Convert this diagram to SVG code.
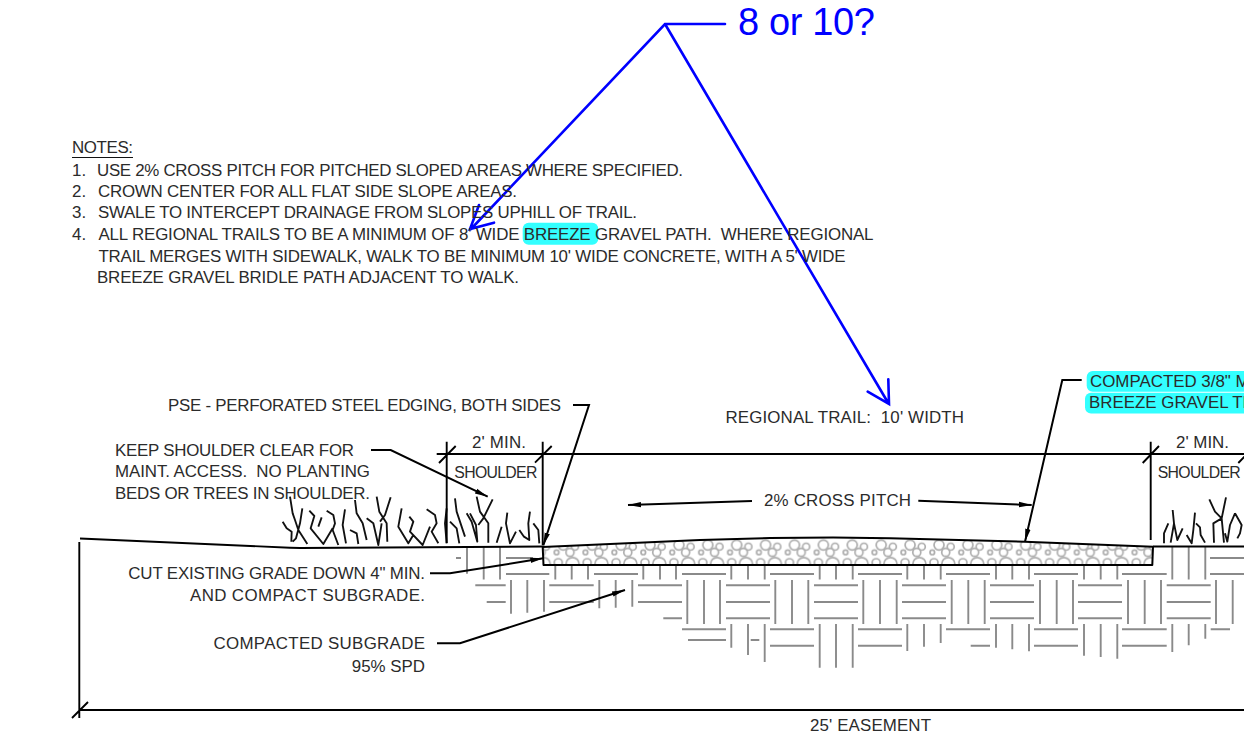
<svg xmlns="http://www.w3.org/2000/svg" width="1244" height="739" viewBox="0 0 1244 739">
<style>
text{font-family:"Liberation Sans",Arial,sans-serif;font-size:16.9px;fill:#2b2b2b;white-space:pre}
.s{font-size:15.8px}
.e{text-anchor:end}
.k{fill:none;stroke:#000;stroke-width:1.9;stroke-linejoin:round}
.l{fill:none;stroke:#000;stroke-width:2;marker-end:url(#ah)}
.g{fill:none;stroke:#111;stroke-width:5.6;stroke-linejoin:round}
.b{fill:none;stroke:#0000ff;stroke-width:2.6;stroke-linecap:round;stroke-linejoin:miter}
.h{fill:#33ffff}
.c{fill:none;stroke:#adadad;stroke-width:1.7}
</style>
<defs>
<marker id="ah" markerUnits="userSpaceOnUse" markerWidth="14" markerHeight="8" refX="13" refY="4" orient="auto"><path d="M0,1.3L13,4L0,6.7Z" fill="#000"/></marker>
<pattern id="gravel" patternUnits="userSpaceOnUse" x="726.7" y="537.7" width="28.9" height="40">
<circle class="c" cx="10" cy="7.3" r="5"/><circle class="c" cx="21.7" cy="9" r="3.5"/><circle class="c" cx="3.3" cy="14.7" r="2.3"/><circle class="c" cx="16.7" cy="14.7" r="4"/><circle class="c" cx="19.3" cy="26.3" r="6.5"/><circle class="c" cx="5" cy="25" r="4"/>
</pattern>
</defs>
<rect width="1244" height="739" fill="#fff"/>
<g id="highlights">
<rect class="h" x="522.7" y="222.7" width="75.6" height="22" rx="6"/>
<rect class="h" x="1086.7" y="371" width="170" height="20.7" rx="6"/>
<rect class="h" x="1085" y="392.7" width="170" height="20.7" rx="6"/>
</g>
<g id="subgrade">
<path fill="none" stroke="#8a8a8a" stroke-width="1.9" d="M506 574H549.3M594 574H638M682 574H726M770 574H814M858 574H902M946 574H990M1034 574H1078M1122 574H1166.7M1210 574H1244M456 558H461M506 558H533M1210 558H1244M475.3 585.3H505.7M549.3 585.3H593.7M638 585.3H682M726 585.3H770M814 585.3H858M902 585.3H946M990 585.3H1034M1078 585.3H1122M1166.7 585.3H1210.7M486.7 602H505.7M549.3 602H593.7M638 602H682M726 602H770M814 602H858M902 602H946M990 602H1034M1078 602H1122M1166.7 602H1210.7M663.3 618.3H682M726 618.3H770M814 618.3H858M902 618.3H946M990 618.3H1034M1078 618.3H1122M1166.7 618.3H1210.7M682 629.3H726M770 629.3H814M858 629.3H902M946 629.3H990M1034 629.3H1078M1122 629.3H1166.7M1210.7 629.3H1230M688 640H726M750.7 640H759.3M770 645.7H814M858 645.7H902M970.7 645.7H990M1034 645.7H1078M1122 645.7H1166.7M467 547V573.7M483.7 547V579.5M500 547V579.5M1172.3 547V579.5M1188.7 547V579.5M1205.3 547V579.5M555.3 565V579.5M571.7 565V579.5M588 565V579.5M643.3 565V579.5M660 565V579.5M676 565V579.5M731.3 565V579.5M748 565V579.5M764.7 565V579.5M819.7 565V579.5M836 565V579.5M852.7 565V579.5M907.3 565V579.5M924 565V579.5M940.7 565V579.5M996 565V579.5M1012.3 565V579.5M1029 565V579.5M1084 565V579.5M1100.7 565V579.5M1117.3 565V579.5M511 580V613.7M527.3 580V612.7M544 580V611.7M599.3 580V608.3M615.7 580V607.7M632.3 580V606.7M687.3 580V624M704 580V624M720 580V624M775.3 580V624M792 580V624M808.3 580V624M863.3 580V624M880 580V624M896.7 580V624M951.7 580V624M968.3 580V624M984.7 580V624M1040 580V624M1056.7 580V624M1073 580V624M1128 580V624M1144.7 580V624M1161 580V624M1216 580V624M1232.7 580V624M731.3 624V647.7M748 624V655M764.7 624V662M819.7 624V667.7M836 624V667.7M852.7 624V667.7M907.3 624V651M924 624V646.7M940.7 624V643M996 624V647.7M1012.3 624V649.3M1029 624V651.3M1084 624V655.7M1100.7 624V657M1117.3 624V658.7M1172.3 624V652M1188.7 624V645.3M1205.3 624V638.7"/>
</g>
<g id="trail">
<path d="M542.7 547L700 540L770 538L833 537.5L890 538.3L1025 541.7L1153 546.7L1152.3 565H543.5Z" fill="url(#gravel)" stroke="#000" stroke-width="2" stroke-linejoin="round"/>
</g>
<g id="ground">
<path class="k" d="M80 538.5L290 547.7L300 548L543 546.5M1153 546.5H1244"/>
</g>
<g id="grass-left" transform="translate(270 480) scale(.3333)">
<path class="g" d="M60 50L68 100L75 120L85 150L112 192M38 125L50 145L65 155L64 185M97 85L90 130L78 175L68 185M118 92L133 108L122 145L160 192L188 145M155 112L145 140M170 92L190 105L195 130L188 150L205 195M225 88L218 135L228 190M255 60L260 100L278 130L290 180M240 150L260 160L265 192M290 115L310 130L325 195L335 130M320 50L328 95L350 130L352 185M362 52L345 105L330 125M395 85L385 140L415 190L430 165M418 110L430 125L420 155L458 195L480 140M470 88L495 105L500 130L485 155L505 190M530 85L525 130L530 190M555 55L560 95L570 125L585 170M540 125L560 145L568 190M590 100L605 125L622 185L618 135L600 100M620 50L630 95L655 130L655 188M668 58L640 115L625 135M712 98L708 130L720 190L738 155M695 140L680 188M780 95L775 130L778 180L762 170L748 150M790 130L805 150L808 190"/>
</g>
<g id="grass-right" transform="translate(1140 490) scale(.3333)">
<path class="g" d="M72 160L72 130L85 100M98 60L102 100L92 158M102 100L112 150L128 115M165 68L160 120L155 160L140 135M168 100L180 112L182 135L195 158M208 28L225 65L245 85L220 100L222 158M258 22L245 85L252 158M285 70L270 105L262 155L255 130M285 70L305 105L300 130L292 145"/>
</g>
<g id="dimensions">
<path class="k" d="M436.7 454H1244M446.7 441.7V543M542.7 441.7V545M1150.7 441.7V540M79.3 542V718M79.3 710H1244M439 463L455.7 446M535 462.7L551.7 446M1142.7 463L1159 446M1238.3 463L1255 446M72 718L88 702"/>
</g>
<g id="leaders">
<path class="l" d="M573 405H589L543.3 545.5"/>
<path class="l" d="M371 450H390.7L487.7 496.7"/>
<path class="l" d="M430 573.3H450L543.3 558.3"/>
<path class="l" d="M437 643.3H460L625 590"/>
<path class="l" d="M752 501L628 505"/>
<path class="l" d="M918.3 500.7L1031.7 505"/>
<path class="l" d="M1081.7 380H1062.3L1025 541.7"/>
</g>
<g id="blue-callout">
<path class="b" d="M725 24H665L471 229M665 24L888.5 403.5M479 205L470 229L494 222.7M888.3 379.3L889 404L867.7 391.7"/>
<text x="738" y="35" style="font-size:38px;fill:#0000ff" textLength="137">8 or 10?</text>
</g>
<g id="notes">
<text x="72" y="153" textLength="61">NOTES:</text>
<path d="M72 157.5H133" stroke="#111" stroke-width="1.2"/>
<text x="72" y="175.7">1.</text><text x="97" y="175.7" textLength="586">USE 2% CROSS PITCH FOR PITCHED SLOPED AREAS WHERE SPECIFIED.</text>
<text x="72" y="196.8">2.</text><text x="98" y="196.8" textLength="419">CROWN CENTER FOR ALL FLAT SIDE SLOPE AREAS.</text>
<text x="72" y="218">3.</text><text x="98" y="218" textLength="539">SWALE TO INTERCEPT DRAINAGE FROM SLOPES UPHILL OF TRAIL.</text>
<text x="72" y="240">4.</text><text x="98.5" y="240" textLength="775">ALL REGIONAL TRAILS TO BE A MINIMUM OF 8' WIDE BREEZE GRAVEL PATH.  WHERE REGIONAL</text>
<text x="98.5" y="261.7" textLength="747">TRAIL MERGES WITH SIDEWALK, WALK TO BE MINIMUM 10' WIDE CONCRETE, WITH A 5' WIDE</text>
<text x="97" y="282.5" textLength="422">BREEZE GRAVEL BRIDLE PATH ADJACENT TO WALK.</text>
</g>
<g id="labels">
<text x="168" y="410.7" textLength="393">PSE - PERFORATED STEEL EDGING, BOTH SIDES</text>
<text x="725.5" y="423" textLength="238.5">REGIONAL TRAIL:  10' WIDTH</text>
<text x="472" y="448" textLength="54">2' MIN.</text>
<text x="1176" y="447.7" textLength="53">2' MIN.</text>
<text class="s" x="454.3" y="477.7" textLength="83">SHOULDER</text>
<text class="s" x="1157.7" y="477.7" textLength="83">SHOULDER</text>
<text x="115" y="456" textLength="239">KEEP SHOULDER CLEAR FOR</text>
<text x="115" y="476.7" textLength="255">MAINT. ACCESS.  NO PLANTING</text>
<text x="115" y="498.7" textLength="255">BEDS OR TREES IN SHOULDER.</text>
<text x="764" y="506" textLength="147">2% CROSS PITCH</text>
<text x="128.3" y="579" textLength="296.7">CUT EXISTING GRADE DOWN 4" MIN.</text>
<text x="190" y="600.7" textLength="235">AND COMPACT SUBGRADE.</text>
<text x="213.5" y="649.3" textLength="211.5">COMPACTED SUBGRADE</text>
<text class="e" x="425" y="671.7">95% SPD</text>
<text x="810" y="731" textLength="121">25' EASEMENT</text>
<text x="1090" y="387.3">COMPACTED 3/8" M</text>
<text x="1089" y="408.3">BREEZE GRAVEL TR</text>
</g>
</svg>
